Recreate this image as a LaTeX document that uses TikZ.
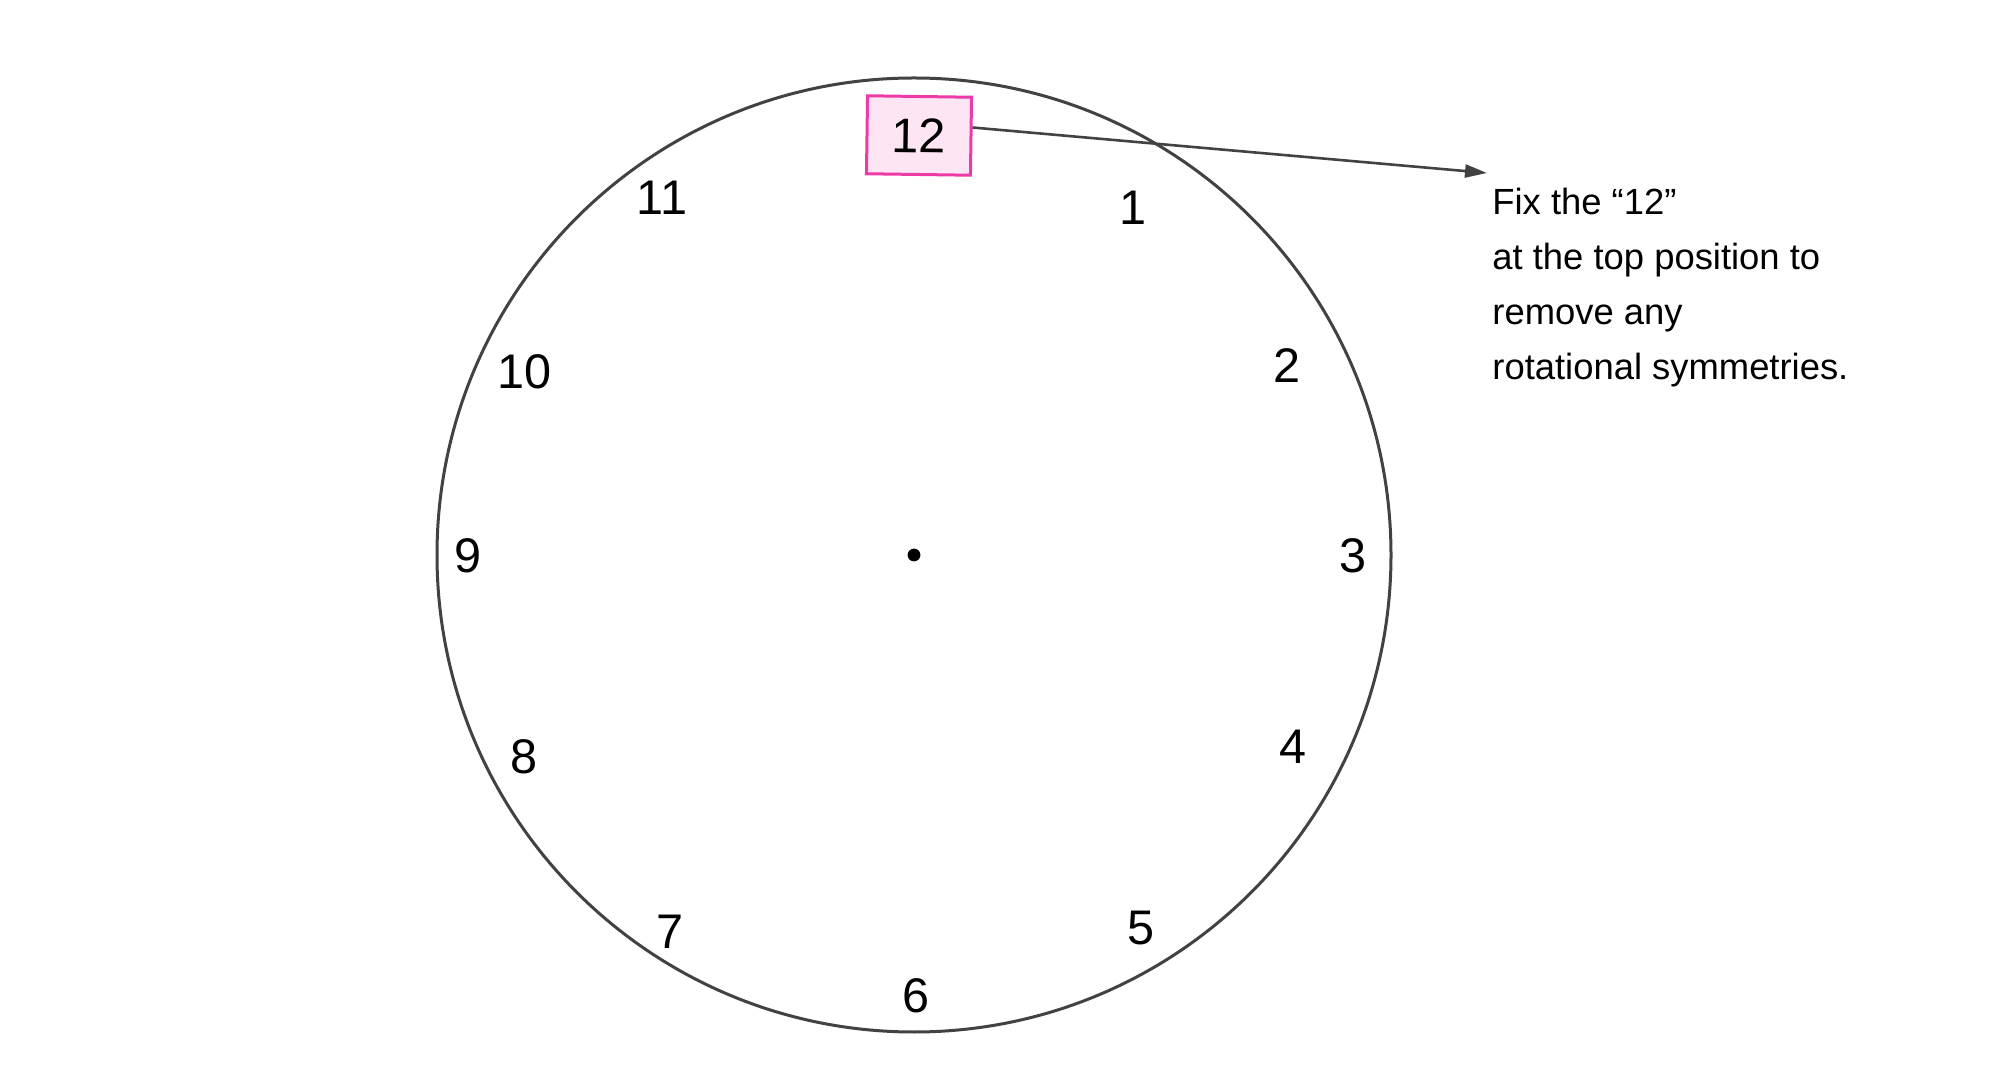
\documentclass[tikz,border=0pt]{standalone}
\usepackage{fontspec}
\setmainfont{Liberation Sans}
\usetikzlibrary{arrows.meta}
\definecolor{rim}{HTML}{424242}
\definecolor{pinkline}{HTML}{EE3AA6}
\definecolor{pinkfill}{HTML}{FDE5F3}
\begin{document}
\begin{tikzpicture}[x=0.5pt,y=-0.5pt,
  num/.style={font=\fontsize{24.3}{28}\selectfont, inner sep=0pt},
  note/.style={font=\fontsize{18.2}{27.5}\selectfont, align=left, inner sep=0pt},
  twelvebox/.style={draw=pinkline, fill=pinkfill, line width=1.5pt, minimum width=52pt, minimum height=39pt, inner sep=0pt, font=\fontsize{24.3}{28}\selectfont},
  pointer/.style={draw=rim, line width=1.3pt, -{Triangle[length=11pt,width=6.5pt]}}]
\useasboundingbox (0,0) rectangle (1999,1090);
\node[draw=rim, line width=1.5pt, circle, minimum size=477pt, inner sep=0pt] (face) at (914,555) {};
\coordinate (hub) at (914,555);
\fill (hub) circle (3.2pt);
\node[twelvebox, rotate=-0.8] (n12) at (919,135.5) {12};
\node[num] (n1) at (1133,208) {1};
\node[num] (n2) at (1287,366) {2};
\node[num] (n3) at (1353,556) {3};
\node[num] (n4) at (1293,747) {4};
\node[num] (n5) at (1141,928) {5};
\node[num] (n6) at (916,996) {6};
\node[num] (n7) at (670,932) {7};
\node[num] (n8) at (524,757) {8};
\node[num] (n9) at (468,556) {9};
\node[num] (n10) at (525,372) {10};
\node[num] (n11) at (662,198) {11};
\coordinate (tip) at (1487,173);
\draw[pointer] (n12.east |- 0,127.5) -- (tip);
\node[note, anchor=north west] (msg) at (1492,188) {Fix the “12”\\at the top position to\\remove any\\rotational symmetries.};
\end{tikzpicture}
\end{document}
